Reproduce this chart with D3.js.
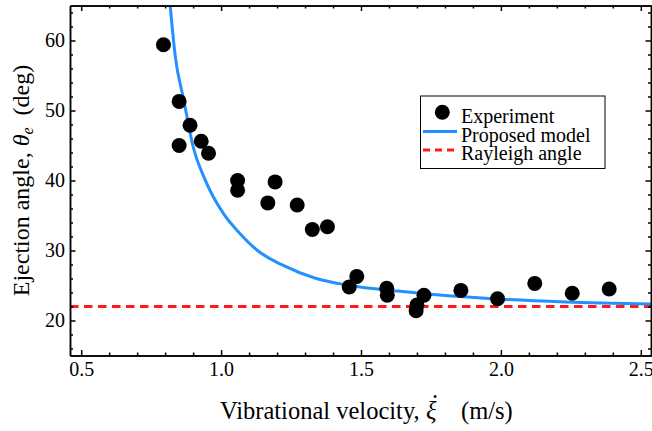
<!DOCTYPE html>
<html>
<head>
<meta charset="utf-8">
<script src="https://cdn.jsdelivr.net/npm/d3@7"></script>
<style>
  body { margin: 0; background: #fff; }
  svg { display: block; }
  svg text { font-family: "Liberation Serif", "Times New Roman", Times, serif; fill: #000; }
  .axis path, .axis line { stroke: #000; stroke-width: 1.5; }
</style>
</head>
<body>
<div id="chartArea"></div>
<script>
// Experiment points
const expVelocity = [0.794, 0.85, 0.889, 0.85, 0.929, 0.955, 1.059, 1.059, 1.193, 1.167, 1.272, 1.326, 1.38,
    1.458, 1.485, 1.592, 1.594, 1.697, 1.70, 1.725, 1.857, 1.988, 2.121, 2.255, 2.387];
const expAngle = [59.4, 51.3, 47.9, 45.0, 45.6, 43.9, 40.0, 38.6, 39.8, 36.8, 36.5, 33.0, 33.4,
    24.8, 26.3, 24.6, 23.6, 21.4, 22.2, 23.6, 24.3, 23.1, 25.3, 23.9, 24.5];

// Proposed model curve
const modelVelocity = [0.818, 0.836, 0.866, 0.899, 0.943, 1.008, 1.068, 1.13, 1.22, 1.34, 1.46, 1.63, 1.76, 2.0, 2.23, 2.54];
const modelAngle = [65, 57.8, 51.6, 45.0, 40.1, 35.3, 32.4, 30.0, 27.9, 26.0, 25.0, 24.2, 23.7, 23.05, 22.65, 22.35];

const rayleighAngle = 22;

const xMajorTicks = [0.5, 1.0, 1.5, 2.0, 2.5];
const yMajorTicks = [20, 30, 40, 50, 60];

const legendLabels = ['Experiment', 'Proposed model', 'Rayleigh angle'];

let width = 652, height = 431;
let margins = { top: 5.5, right: 0, bottom: 75.5, left: 70 };
let plotW = width - margins.left - margins.right,
    plotH = height - margins.top - margins.bottom;

let serif = '"Liberation Serif", "Times New Roman", Times, serif';

let svg = d3.select('#chartArea').append('svg')
    .attr('width', width)
    .attr('height', height);

let chart = svg.append('g')
    .attr('transform', 'translate(' + margins.left + ',' + margins.top + ')');

let xScale = d3.scaleLinear().domain([0.46, 2.54]).range([0, plotW]);
let yScale = d3.scaleLinear().domain([15, 65]).range([plotH, 0]);

let xMinor = d3.range(5, 26).map(d => d / 10).filter(d => xMajorTicks.indexOf(d) < 0);
let yMinor = d3.range(16, 65, 2).filter(d => yMajorTicks.indexOf(d) < 0);

chart.append('clipPath').attr('id', 'plotClip')
    .append('rect').attr('width', plotW).attr('height', plotH);

// Rayleigh angle
chart.append('line')
    .attr('x1', 0).attr('x2', plotW)
    .attr('y1', yScale(rayleighAngle)).attr('y2', yScale(rayleighAngle))
    .attr('stroke', '#ff1a1a')
    .attr('stroke-width', 3)
    .attr('stroke-dasharray', '8.5,5.5');

// Proposed model
let modelData = modelVelocity.map((v, i) => [v, modelAngle[i]]);
let line = d3.line()
    .x(d => xScale(d[0]))
    .y(d => yScale(d[1]))
    .curve(d3.curveMonotoneX);

chart.append('path')
    .attr('clip-path', 'url(#plotClip)')
    .attr('d', line(modelData))
    .attr('fill', 'none')
    .attr('stroke', '#2291ff')
    .attr('stroke-width', 3);

// Experiment points
chart.selectAll('.dot')
    .data(expVelocity.map((v, i) => [v, expAngle[i]]))
    .enter().append('circle')
    .attr('class', 'dot')
    .attr('r', 7.5)
    .attr('cx', d => xScale(d[0]))
    .attr('cy', d => yScale(d[1]))
    .attr('fill', '#000');

// Axes, ticks pointing inward on all four sides
function addAxis(axis, transform) {
    let g = chart.append('g').attr('class', 'axis')
        .attr('transform', transform)
        .call(axis);
    g.selectAll('text')
        .attr('font-family', serif)
        .style('font-family', serif)
        .style('font-size', '20px');
}

addAxis(d3.axisBottom(xScale).tickValues(xMajorTicks).tickFormat(d3.format('.1f'))
    .tickSizeInner(-5.5).tickSizeOuter(0).tickPadding(6), 'translate(0,' + plotH + ')');
addAxis(d3.axisBottom(xScale).tickValues(xMinor).tickFormat('')
    .tickSizeInner(-3).tickSizeOuter(0), 'translate(0,' + plotH + ')');
addAxis(d3.axisTop(xScale).tickValues(xMajorTicks).tickFormat('')
    .tickSizeInner(-5.5).tickSizeOuter(0), 'translate(0,0)');
addAxis(d3.axisTop(xScale).tickValues(xMinor).tickFormat('')
    .tickSizeInner(-3).tickSizeOuter(0), 'translate(0,0)');

addAxis(d3.axisLeft(yScale).tickValues(yMajorTicks).tickFormat(d3.format('d'))
    .tickSizeInner(-5.5).tickSizeOuter(0).tickPadding(5), 'translate(0,0)');
addAxis(d3.axisLeft(yScale).tickValues(yMinor).tickFormat('')
    .tickSizeInner(-3).tickSizeOuter(0), 'translate(0,0)');
addAxis(d3.axisRight(yScale).tickValues(yMajorTicks).tickFormat('')
    .tickSizeInner(-5.5).tickSizeOuter(0), 'translate(' + (plotW - 1) + ',0)');
addAxis(d3.axisRight(yScale).tickValues(yMinor).tickFormat('')
    .tickSizeInner(-3).tickSizeOuter(0), 'translate(' + (plotW - 1) + ',0)');

// Text for the x-axis
let xLabel = svg.append('text')
    .attr('x', 220)
    .attr('y', 419)
    .style('font-size', '24.5px');
xLabel.append('tspan').text('Vibrational velocity,');
xLabel.append('tspan').attr('x', 426).style('font-style', 'italic').text('\u03BE');
xLabel.append('tspan').attr('x', 432).attr('dy', -21).text('.');
xLabel.append('tspan').attr('x', 461).attr('dy', 21).text('(m/s)');

// Text for the y-axis
let yLabel = svg.append('text')
    .attr('transform', 'translate(29,' + (margins.top + plotH / 2) + ') rotate(-90)')
    .attr('text-anchor', 'middle')
    .style('font-size', '24px');
yLabel.append('tspan').text('Ejection angle, ');
yLabel.append('tspan').style('font-style', 'italic').text('\u03B8');
yLabel.append('tspan').style('font-style', 'italic').style('font-size', '16px').attr('dy', 4).text('e');
yLabel.append('tspan').attr('dy', -4).text('\u00A0 (deg)');

// Legend
let legend = svg.append('g');
legend.append('rect')
    .attr('x', 420.5).attr('y', 96)
    .attr('width', 184.5).attr('height', 72.5)
    .attr('fill', '#fff')
    .attr('stroke', '#000')
    .attr('stroke-width', 1);

let rowY = [112.3, 131.5, 150];
legend.append('circle')
    .attr('cx', 442.3).attr('cy', rowY[0]).attr('r', 7.5).attr('fill', '#000');
legend.append('line')
    .attr('x1', 423).attr('x2', 457).attr('y1', rowY[1]).attr('y2', rowY[1])
    .attr('stroke', '#2291ff').attr('stroke-width', 3);
legend.append('line')
    .attr('x1', 423).attr('x2', 457).attr('y1', rowY[2]).attr('y2', rowY[2])
    .attr('stroke', '#ff1a1a').attr('stroke-width', 3).attr('stroke-dasharray', '7,5');

legend.selectAll('.legendText')
    .data(legendLabels)
    .enter().append('text')
    .attr('class', 'legendText')
    .attr('x', 461)
    .attr('y', (d, i) => rowY[i] + 4)
    .attr('dy', '0.32em')
    .style('font-size', '20px')
    .text(d => d);
</script>
</body>
</html>
